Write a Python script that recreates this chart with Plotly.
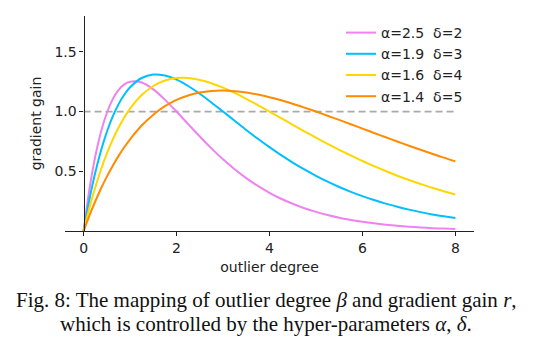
import plotly.graph_objects as go

# outlier degree (beta) sample points
beta = [0.0, 0.125, 0.25, 0.375, 0.5, 0.625, 0.75, 0.875, 1.0, 1.25, 1.5, 1.75, 2.0, 2.25, 2.5,
        2.75, 3.0, 3.25, 3.5, 3.75, 4.0, 4.25, 4.5, 4.75, 5.0, 5.25, 5.5, 5.75, 6.0, 6.25, 6.5,
        6.75, 7.0, 7.25, 7.5, 7.75, 8.0]

# gradient gain
gain_a25_d2 = [0.0, 0.348, 0.621, 0.831, 0.988, 1.102, 1.179, 1.227, 1.250, 1.243, 1.186, 1.100,
               1.000, 0.895, 0.791, 0.692, 0.600, 0.517, 0.443, 0.377, 0.320, 0.270, 0.228, 0.191,
               0.160, 0.134, 0.111, 0.093, 0.077, 0.064, 0.053, 0.044, 0.036, 0.030, 0.024, 0.020,
               0.016]
gain_a19_d3 = [0.0, 0.264, 0.487, 0.674, 0.829, 0.957, 1.060, 1.141, 1.203, 1.281, 1.310, 1.301,
               1.267, 1.214, 1.149, 1.076, 1.000, 0.923, 0.846, 0.772, 0.702, 0.635, 0.573, 0.515,
               0.462, 0.413, 0.368, 0.328, 0.292, 0.259, 0.229, 0.203, 0.179, 0.158, 0.139, 0.123,
               0.108]
gain_a16_d4 = [0.0, 0.193, 0.364, 0.515, 0.648, 0.763, 0.864, 0.950, 1.024, 1.138, 1.214, 1.260,
               1.280, 1.280, 1.265, 1.237, 1.200, 1.156, 1.107, 1.054, 1.000, 0.945, 0.889, 0.835,
               0.781, 0.729, 0.679, 0.632, 0.586, 0.543, 0.502, 0.463, 0.427, 0.394, 0.362, 0.333,
               0.305]
gain_a14_d5 = [0.0, 0.129, 0.247, 0.356, 0.455, 0.545, 0.627, 0.701, 0.768, 0.883, 0.974, 1.045,
               1.098, 1.135, 1.160, 1.173, 1.176, 1.171, 1.160, 1.142, 1.120, 1.094, 1.065, 1.033,
               1.000, 0.965, 0.930, 0.894, 0.857, 0.821, 0.785, 0.749, 0.714, 0.680, 0.647, 0.614,
               0.583]

series_names = ["α=2.5\u00a0\u00a0δ=2", "α=1.9\u00a0\u00a0δ=3", "α=1.6\u00a0\u00a0δ=4", "α=1.4\u00a0\u00a0δ=5"]
series_vals = [gain_a25_d2, gain_a19_d3, gain_a16_d4, gain_a14_d5]
series_colors = ["#EE82EE", "#00BFFF", "#FFD700", "#FF8C00"]

ref_x = [0, 8]
ref_y = [1.0, 1.0]

x_ticks = [0, 2, 4, 6, 8]
y_ticks = [0.5, 1.0, 1.5]
y_ticklabels = ["0.5", "1.0", "1.5"]

W, H = 534, 348
ML, MR, MT, MB = 65, 60, 16, 117

fig = go.Figure()
fig.add_trace(go.Scatter(x=ref_x, y=ref_y, mode="lines", showlegend=False,
                         line=dict(color="#A9A9A9", width=1.8, dash="7px,4px"), hoverinfo="skip"))
for i, (name, vals, col) in enumerate(zip(series_names, series_vals, series_colors)):
    fig.add_trace(go.Scatter(x=beta, y=vals, mode="lines", name=name, legendgroup=f"g{i}",
                             line=dict(color=col, width=2, shape="spline", smoothing=0.8)))

font_main = dict(family="DejaVu Sans", size=14, color="#222222")

plot_w = W - ML - MR
plot_h = H - MT - MB
x_range = [-0.4, 8.4]
yaxis_pos = (0 - x_range[0]) / (x_range[1] - x_range[0])

fig.update_layout(
    width=W, height=H,
    margin=dict(l=ML, r=MR, t=MT, b=MB, pad=0),
    paper_bgcolor="white", plot_bgcolor="white",
    font=font_main,
    xaxis=dict(range=x_range, tickvals=x_ticks, ticks="outside", ticklen=4, tickwidth=1.1,
               tickcolor="#222222", showline=True, linecolor="#222222", linewidth=1.2,
               showgrid=False, zeroline=False, tickfont=font_main,
               title=dict(text="outlier degree", font=font_main, standoff=7)),
    yaxis=dict(range=[0, 1.8], tickvals=y_ticks, ticktext=y_ticklabels, ticks="outside",
               ticklen=4, tickwidth=1.1, tickcolor="#222222", showline=True,
               linecolor="#222222", linewidth=1.2, showgrid=False, zeroline=False,
               anchor="free", position=yaxis_pos, tickfont=font_main,
               title=dict(text="gradient gain", font=font_main, standoff=8)),
    legend=dict(x=(341 - ML) / plot_w, y=1 - (17 - MT) / plot_h, xanchor="left", yanchor="top",
                bgcolor="rgba(0,0,0,0)", font=font_main, itemwidth=30, tracegroupgap=1,
                traceorder="normal"),
)

cap_font = dict(family="Liberation Serif", size=21, color="#111111")
fig.add_annotation(text="Fig. 8: The mapping of outlier degree <i>β</i> and gradient gain <i>r</i>,",
                   xref="paper", yref="paper", x=(266 - ML) / plot_w, y=(H - MB - 299.5) / plot_h,
                   xanchor="center", yanchor="middle", showarrow=False, font=cap_font)
fig.add_annotation(text="which is controlled by the hyper-parameters <i>α</i>, <i>δ</i>.",
                   xref="paper", yref="paper", x=(266 - ML) / plot_w, y=(H - MB - 323.5) / plot_h,
                   xanchor="center", yanchor="middle", showarrow=False, font=cap_font)

fig.write_html("out.html")
